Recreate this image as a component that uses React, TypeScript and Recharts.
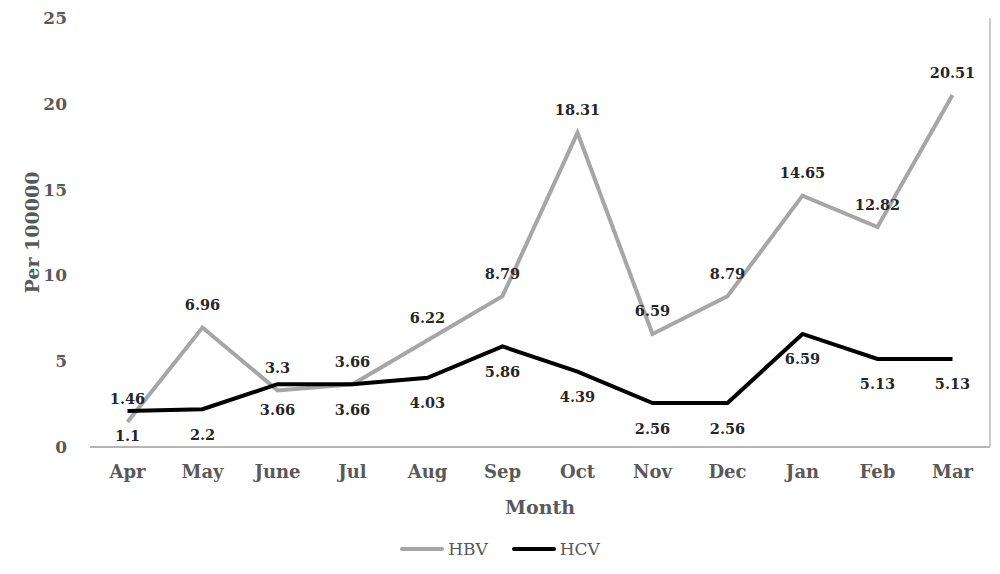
import React from "react";
import { LineChart, Line, XAxis, YAxis, Legend, LabelList } from "recharts";

const months = ["Apr", "May", "June", "Jul", "Aug", "Sep", "Oct", "Nov", "Dec", "Jan", "Feb", "Mar"];
const hbv = [1.46, 6.96, 3.3, 3.66, 6.22, 8.79, 18.31, 6.59, 8.79, 14.65, 12.82, 20.51];
const hcv = [2.1, 2.2, 3.66, 3.66, 4.03, 5.86, 4.39, 2.56, 2.56, 6.59, 5.13, 5.13];
const hbvLabels = ["1.46", "6.96", "3.3", "3.66", "6.22", "8.79", "18.31", "6.59", "8.79", "14.65", "12.82", "20.51"];
const hcvLabels = ["1.1", "2.2", "3.66", "3.66", "4.03", "5.86", "4.39", "2.56", "2.56", "6.59", "5.13", "5.13"];
const yTicks = [0, 5, 10, 15, 20, 25];

const data = months.map((m, i) => ({ month: m, HBV: hbv[i], HCV: hcv[i] }));

const FONT = "'DejaVu Serif', 'Liberation Serif', serif";

const makeLabel = (labels: string[], dy: number) => (props: any) => {
  const { x, y, index } = props;
  return (
    <text
      x={x}
      y={y + dy}
      textAnchor="middle"
      dominantBaseline="central"
      fontFamily={FONT}
      fontWeight="bold"
      fontSize={14.5}
      fill="#262626"
    >
      {labels[index]}
    </text>
  );
};

const LegendContent = () => (
  <div style={{ height: 30, display: "flex", justifyContent: "center", alignItems: "center", fontFamily: FONT, fontSize: 17, color: "#595959" }}>
    <svg width={44} height={10} style={{ marginRight: 4 }}>
      <line x1={2} y1={5} x2={42} y2={5} stroke="#a6a6a6" strokeWidth={4} strokeLinecap="round" />
    </svg>
    <span style={{ marginRight: 24 }}>HBV</span>
    <svg width={44} height={10} style={{ marginRight: 4 }}>
      <line x1={2} y1={5} x2={42} y2={5} stroke="#000000" strokeWidth={4} strokeLinecap="round" />
    </svg>
    <span>HCV</span>
  </div>
);

export default function App() {
  return (
    <div style={{ position: "absolute", left: 0, top: 0, width: 1000, height: 574, background: "#fff" }}>
      <LineChart width={1000} height={574} data={data} margin={{ top: 18, right: 6, left: 0, bottom: 17 }}>
        <XAxis
          dataKey="month"
          scale="band"
          height={80}
          tickLine={false}
          tickSize={0}
          tickMargin={18}
          axisLine={{ stroke: "#b5b5b5", strokeWidth: 2 }}
          tick={{ fontFamily: FONT, fontWeight: "bold", fontSize: 18, fill: "#595959" }}
          label={{ value: "Month", position: "insideBottom", offset: 13, fontFamily: FONT, fontWeight: "bold", fontSize: 19, fill: "#595959" }}
        />
        <YAxis
          width={90}
          domain={[0, 25]}
          ticks={yTicks}
          tickLine={false}
          axisLine={false}
          tickSize={0}
          tickMargin={23}
          tick={{ fontFamily: FONT, fontWeight: "bold", fontSize: 17, fill: "#595959" }}
          label={{
            content: (p: any) => {
              const vb = p.viewBox || { y: 18, height: 429 };
              const cy = vb.y + vb.height / 2;
              return (
                <text
                  x={32}
                  y={cy}
                  transform={`rotate(-90, 32, ${cy})`}
                  textAnchor="middle"
                  dominantBaseline="central"
                  fontFamily={FONT}
                  fontWeight="bold"
                  fontSize={19}
                  fill="#595959"
                >
                  Per 100000
                </text>
              );
            },
          }}
        />
        <YAxis
          yAxisId="r"
          orientation="right"
          width={4}
          domain={[0, 25]}
          tick={false}
          tickLine={false}
          axisLine={{ stroke: "#bdbdbd", strokeWidth: 1.5 }}
        />
        <Legend verticalAlign="bottom" content={<LegendContent />} wrapperStyle={{ top: 534, left: 0, width: 1000 }} />
        <Line
          type="linear"
          dataKey="HBV"
          stroke="#a6a6a6"
          strokeWidth={4}
          dot={false}
          isAnimationActive={false}
        >
          <LabelList dataKey="HBV" content={makeLabel(hbvLabels, -23)} />
        </Line>
        <Line
          type="linear"
          dataKey="HCV"
          stroke="#000000"
          strokeWidth={4}
          dot={false}
          isAnimationActive={false}
        >
          <LabelList dataKey="HCV" content={makeLabel(hcvLabels, 25)} />
        </Line>
      </LineChart>
    </div>
  );
}
